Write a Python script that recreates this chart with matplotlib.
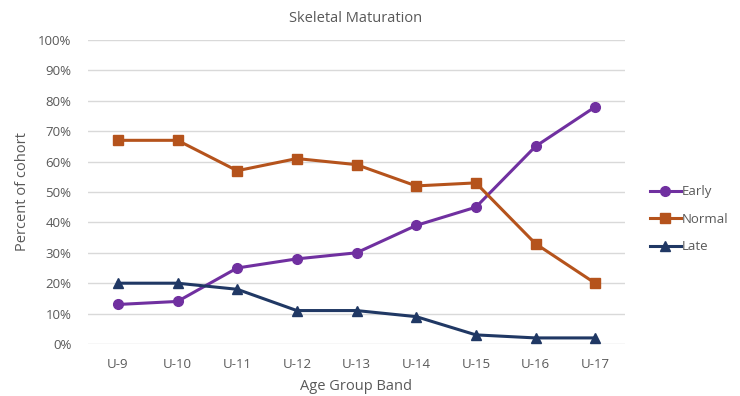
import matplotlib
matplotlib.use("Agg")
import matplotlib.pyplot as plt
from matplotlib.ticker import PercentFormatter

plt.rcParams['font.family'] = ['Open Sans', 'DejaVu Sans']

groups = ["U-9", "U-10", "U-11", "U-12", "U-13", "U-14", "U-15", "U-16", "U-17"]
early = [13, 14, 25, 28, 30, 39, 45, 65, 78]
normal = [67, 67, 57, 61, 59, 52, 53, 33, 20]
late = [20, 20, 18, 11, 11, 9, 3, 2, 2]

text_col = "#595959"
grid_col = "#d9d9d9"

fig = plt.figure(figsize=(7.4, 3.96), dpi=100)
ax = fig.add_axes([88/740, 1-344/396, (625-88)/740, (344-40)/396])

x = range(len(groups))
ax.plot(x, early, color="#7030A0", marker="o", markersize=7, linewidth=2.2, label="Early")
ax.plot(x, normal, color="#B5531C", marker="s", markersize=6.5, linewidth=2.2, label="Normal")
ax.plot(x, late, color="#203864", marker="^", markersize=7.5, linewidth=2.2, label="Late")

ax.set_xlim(-0.5, len(groups) - 0.5)
ax.set_ylim(0, 100)
ax.set_yticks(range(0, 101, 10))
ax.yaxis.set_major_formatter(PercentFormatter(decimals=0))
ax.set_xticks(list(x))
ax.set_xticklabels(groups)
ax.grid(axis="y", color=grid_col, linewidth=1)
ax.set_axisbelow(True)
for s in ax.spines.values():
    s.set_visible(False)
ax.tick_params(length=0, colors=text_col, labelsize=9.5)
ax.tick_params(axis="x", pad=10)
ax.tick_params(axis="y", pad=12)

ax.set_xlabel("Age Group Band", color=text_col, fontsize=10.5, labelpad=6)
ax.set_ylabel("Percent of cohort", color=text_col, fontsize=10.5, labelpad=6)
fig.text(356/740, 1-18/396, "Skeletal Maturation", ha="center", va="center",
         color=text_col, fontsize=10.5)

leg = ax.legend(loc="center left", bbox_to_anchor=(1.025, 0.41), frameon=False,
                fontsize=9.5, labelcolor=text_col, handlelength=2.3,
                handletextpad=0.1, labelspacing=1.1)

fig.savefig("out.png", dpi=100, facecolor="white")
